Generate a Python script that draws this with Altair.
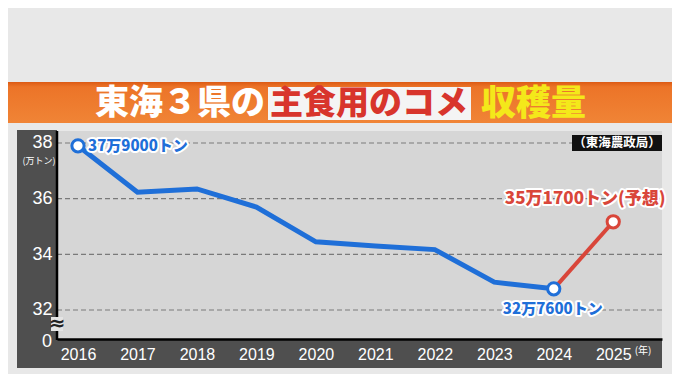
import altair as alt
import pandas as pd

# ---- data ----
years = [2016, 2017, 2018, 2019, 2020, 2021, 2022, 2023, 2024]
values = [37.9, 36.23, 36.35, 35.7, 34.45, 34.3, 34.17, 33.0, 32.76]
forecast_years = [2024, 2025]
forecast_values = [32.76, 35.17]
y_ticks = [32, 34, 36, 38]
x_ticks = [2016, 2017, 2018, 2019, 2020, 2021, 2022, 2023, 2024, 2025]
marker_years = [2016, 2024, 2025]
marker_values = [37.9, 32.76, 35.17]
marker_kind = ["actual", "actual", "forecast"]
label_texts = ["37万9000トン", "32万7600トン", "35万1700トン(予想)"]

BLUE = "#1f6fd8"
RED = "#d9463a"
DARK = "#4f4f4f"
PLOT_BG = "#d6d6d6"

W, H = 605, 208

df_actual = pd.DataFrame({"year": years, "value": values})
df_fc = pd.DataFrame({"year": forecast_years, "value": forecast_values})
df_mark = pd.DataFrame({"year": marker_years, "value": marker_values, "kind": marker_kind,
                        "label": label_texts})
df_grid = pd.DataFrame({"value": y_ticks})

xs = alt.Scale(domain=[2015.647, 2025.82], nice=False, zero=False)
ys = alt.Scale(domain=[30.958, 38.431], nice=False, zero=False)

one = pd.DataFrame({"a": [0]})

def deco_rect(x, x2, y, y2, color, **kw):
    return alt.Chart(one).mark_rect(color=color, **kw).encode(
        x=alt.value(x), x2=alt.value(x2), y=alt.value(y), y2=alt.value(y2))

def deco_text(text, x, y, **kw):
    return alt.Chart(one).mark_text(text=text, **kw).encode(x=alt.value(x), y=alt.value(y))

# dark frame around the plot
frame_left = deco_rect(-40, 0, -1, 237, DARK)
frame_bottom = deco_rect(-40, W, H, 237, DARK)

# banner
banner = alt.Chart(one).mark_rect(
    color={"gradient": "linear", "x1": 0, "y1": 0, "x2": 0, "y2": 1,
           "stops": [{"offset": 0, "color": "#dc5a14"}, {"offset": 0.12, "color": "#ec7428"},
                     {"offset": 1, "color": "#f08436"}]}
).encode(x=alt.value(-49), x2=alt.value(615), y=alt.value(-49), y2=alt.value(-8))
title_box = deco_rect(211, 414, -44, -11, "#f4f4f4")
FONT = "Noto Sans CJK JP"
t1 = deco_text("東海３県の", 38, -27, align="left", baseline="middle", font=FONT,
               fontSize=34, fontWeight=900, color="white")
t2 = deco_text("主食用のコメ", 213, -27, align="left", baseline="middle", font=FONT,
               fontSize=33, fontWeight=900, color="#d8352c")
t3 = deco_text("収穫量", 424, -27, align="left", baseline="middle", font=FONT,
               fontSize=35, fontWeight=900, color="#f4e81a")

# grid lines
grid = alt.Chart(df_grid).mark_rule(color="#7a7a7a", strokeDash=[5, 3], strokeWidth=1.2).encode(
    y=alt.Y("value:Q", scale=ys))

# axes carrier
axes = alt.Chart(df_actual).mark_point(opacity=0).encode(
    x=alt.X("year:Q", scale=xs, title=None,
            axis=alt.Axis(values=x_ticks, format="d", labelColor="white", labelFontSize=16,
                          labelFont="Liberation Sans", labelPadding=7, ticks=False,
                          domainColor="black", domainWidth=2.5, grid=False, zindex=2,
                          labelFlush=False)),
    y=alt.Y("value:Q", scale=ys, title=None,
            axis=alt.Axis(values=y_ticks, labelColor="white", labelFontSize=18,
                          labelFont="Liberation Sans", labelPadding=5, ticks=False,
                          domain=False, grid=False, zindex=2, labelFlush=False)),
)
left_line = alt.Chart(one).mark_rule(color="black", strokeWidth=2.5).encode(
    x=alt.value(0), y=alt.value(0), y2=alt.value(H + 1))

unit = deco_text("(万トン)", -18, 30, font=FONT, fontSize=9, color="white", baseline="middle")
zero = deco_text("0", -10, 211, font="Liberation Sans", fontSize=18, color="white",
                 baseline="middle")
year_unit = deco_text("(年)", 586, 220, font=FONT, fontSize=10, color="white", baseline="middle")
brk_bg = deco_rect(-6, 6, 186, 200, "#e4e4e4")
brk = deco_text("≈", 0, 193, font="DejaVu Sans", fontSize=20, fontWeight="bold",
                color="#222222", baseline="middle")

# source
src_box = deco_rect(515, 605, 4, 20, "#111111")
src = deco_text("（東海農政局）", 560, 12, font=FONT, fontSize=12.5, fontWeight="bold",
                color="white", baseline="middle")

# data lines
line_a = alt.Chart(df_actual).mark_line(color=BLUE, strokeWidth=5).encode(
    x=alt.X("year:Q", scale=xs), y=alt.Y("value:Q", scale=ys))
line_f = alt.Chart(df_fc).mark_line(color=RED, strokeWidth=4).encode(
    x=alt.X("year:Q", scale=xs), y=alt.Y("value:Q", scale=ys))
points = alt.Chart(df_mark).mark_point(filled=False, fill="white", fillOpacity=1, size=150,
                                       strokeWidth=3, opacity=1, shape="circle").encode(
    x=alt.X("year:Q", scale=xs), y=alt.Y("value:Q", scale=ys),
    stroke=alt.Stroke("kind:N", scale=alt.Scale(domain=["actual", "forecast"], range=[BLUE, RED]),
                      legend=None))

# data labels with white halo
def label(idx, color, align, dx, dy, size):
    d = df_mark.iloc[[idx]]
    base = alt.Chart(d).encode(x=alt.X("year:Q", scale=xs), y=alt.Y("value:Q", scale=ys),
                               text="label:N")
    halo = base.mark_text(align=align, baseline="middle", dx=dx, dy=dy, font=FONT,
                          fontSize=size, fontWeight=900, color="white", stroke="white",
                          strokeWidth=4, strokeJoin="round")
    fg = base.mark_text(align=align, baseline="middle", dx=dx, dy=dy, font=FONT,
                        fontSize=size, fontWeight=900, color=color)
    return [halo, fg]

labels = (label(0, BLUE, "left", 10, 0, 15) + label(1, BLUE, "center", -1, 20, 15)
          + label(2, RED, "center", -28, -23, 17))

chart = alt.layer(
    frame_left, frame_bottom, banner, title_box, t1, t2, t3, grid, axes, left_line,
    unit, zero, year_unit, brk_bg, brk, src_box, src, line_a, line_f, points, *labels
).properties(
    width=W, height=H,
    autosize=alt.AutoSizeParams(type="none"),
    padding={"left": 49, "top": 123, "right": 10, "bottom": 35},
    background="#e8e8e8",
).configure_view(fill=PLOT_BG, strokeWidth=0)

chart.save("out.html", embed_options={"renderer": "svg", "actions": False})
